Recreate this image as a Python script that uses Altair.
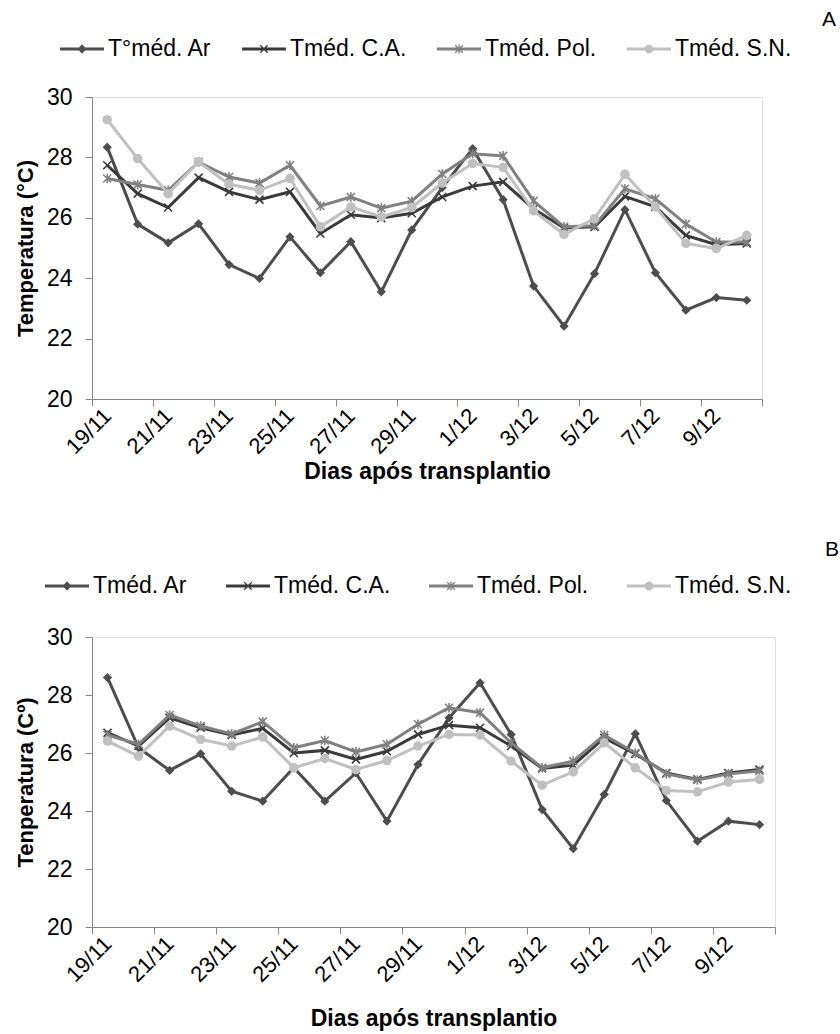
import json
import math
import altair as alt
import pandas as pd

# ---------------- data ----------------
days = ["19/11", "20/11", "21/11", "22/11", "23/11", "24/11", "25/11", "26/11",
        "27/11", "28/11", "29/11", "30/11", "1/12", "2/12", "3/12", "4/12",
        "5/12", "6/12", "7/12", "8/12", "9/12", "10/12"]
tick_labels = ["19/11", "21/11", "23/11", "25/11", "27/11", "29/11",
               "1/12", "3/12", "5/12", "7/12", "9/12"]

series_A = ["T°méd. Ar", "Tméd. C.A.", "Tméd. Pol.", "Tméd. S.N."]
series_B = ["Tméd. Ar", "Tméd. C.A.", "Tméd. Pol.", "Tméd. S.N."]

A_ar = [28.34, 25.79, 25.17, 25.80, 24.45, 23.99, 25.37, 24.18, 25.21, 23.55, 25.60,
        27.00, 28.29, 26.60, 23.74, 22.41, 24.15, 26.27, 24.18, 22.94, 23.36, 23.27]
A_ca = [27.74, 26.80, 26.34, 27.33, 26.86, 26.60, 26.86, 25.48, 26.10, 25.99, 26.15,
        26.69, 27.05, 27.19, 26.30, 25.66, 25.70, 26.71, 26.36, 25.42, 25.11, 25.15]
A_pol = [27.30, 27.10, 26.91, 27.85, 27.35, 27.15, 27.74, 26.39, 26.69, 26.32, 26.55,
         27.45, 28.12, 28.05, 26.56, 25.70, 25.74, 26.96, 26.63, 25.79, 25.20, 25.20]
A_sn = [29.25, 27.96, 26.80, 27.85, 27.11, 26.91, 27.30, 25.70, 26.36, 26.03, 26.34,
        27.15, 27.80, 27.67, 26.23, 25.45, 25.97, 27.44, 26.36, 25.15, 24.98, 25.42]

B_ar = [28.60, 26.18, 25.40, 25.97, 24.68, 24.34, 25.49, 24.34, 25.31, 23.65, 25.60,
        27.21, 28.42, 26.64, 24.05, 22.70, 24.57, 26.66, 24.36, 22.96, 23.65, 23.53]
B_ca = [26.70, 26.24, 27.21, 26.87, 26.62, 26.85, 26.00, 26.09, 25.78, 26.06, 26.64,
        26.96, 26.87, 26.24, 25.47, 25.58, 26.52, 25.97, 25.31, 25.09, 25.31, 25.43]
B_pol = [26.62, 26.30, 27.31, 26.93, 26.66, 27.08, 26.18, 26.43, 26.04, 26.30, 26.99,
         27.56, 27.39, 26.35, 25.49, 25.72, 26.62, 26.00, 25.28, 25.07, 25.28, 25.38]
B_sn = [26.41, 25.89, 26.93, 26.47, 26.24, 26.55, 25.49, 25.81, 25.43, 25.74, 26.24,
        26.64, 26.62, 25.72, 24.89, 25.35, 26.35, 25.49, 24.71, 24.66, 25.00, 25.09]

# ---------------- styling ----------------
FONT = "Liberation Sans"
COLORS = ["#4d4d4d", "#3a3a3a", "#808080", "#c0c0c0"]
AXIS_GRAY = "#868686"

X_PATH = "M-1,-1L1,1M-1,1L1,-1"
STAR_PATH = "M-1,-1L1,1M-1,1L1,-1M0,-1.2L0,1.2"


def poly(points):
    area = 0.0
    n = len(points)
    for k in range(n):
        x1, y1 = points[k]
        x2, y2 = points[(k + 1) % n]
        area += x1 * y2 - x2 * y1
    if area < 0:
        points = points[::-1]
    return "M" + "L".join(f"{x:.4f},{y:.4f}" for x, y in points) + "Z"


def line_part(h):
    return poly([(-1, -h), (1, -h), (1, h), (-1, h)])


def diag(a, t, sign):
    d = t / 2 / math.sqrt(2)
    if sign > 0:
        return poly([(-a + d, -a - d), (a + d, a - d), (a - d, a + d), (-a - d, -a + d)])
    return poly([(-a + d, a + d), (a + d, -a + d), (a - d, -a - d), (-a - d, a - d)])


def legend_paths():
    h = 0.065
    base = line_part(h)
    diamond = poly([(0, -0.22), (0.2, 0), (0, 0.22), (-0.2, 0)])
    a, t = 0.17, 0.06
    xm = diag(a, t, 1) + diag(a, t, -1)
    star = xm + poly([(-t / 2, -0.2), (t / 2, -0.2), (t / 2, 0.2), (-t / 2, 0.2)])
    circ = poly([(0.2 * math.cos(2 * math.pi * k / 20), 0.2 * math.sin(2 * math.pi * k / 20))
                 for k in range(20)])
    return [base + diamond, base + xm, base + star, base + circ]


def panel(names, values, ytitle, letter, width, height, leg_x, leg_y, col_pad,
          title_dx, title_offset, xtitle_pad):
    rows = []
    for name, vals in zip(names, values):
        for i, (d, v) in enumerate(zip(days, vals)):
            rows.append({"dia": d, "i": i, "serie": name, "v": v})
    df = pd.DataFrame(rows)

    label_arr = json.dumps(tick_labels + [""])
    band = width / len(days)
    xaxis = alt.Axis(
        values=[-0.5 + 2 * k for k in range(12)],
        labelExpr=f"{label_arr}[round((datum.value + 0.5) / 2)]",
        labelAngle=-45, labelAlign="right", labelBaseline="middle",
        labelOffset=band / 2, labelFlush=False, labelOverlap=False,
        labelFontSize=22, labelPadding=6, labelColor="black",
        tickSize=7, tickColor=AXIS_GRAY, domainColor=AXIS_GRAY, grid=False,
        title="Dias após transplantio", titleFontSize=23, titleFontWeight="bold",
        titleColor="black", titlePadding=xtitle_pad,
    )
    yaxis = alt.Axis(
        values=[20, 22, 24, 26, 28, 30], labelFontSize=23, labelPadding=13,
        labelColor="black", tickSize=7, tickColor=AXIS_GRAY, domainColor=AXIS_GRAY,
        grid=False, title=ytitle, titleFontSize=22, titleFontWeight="bold",
        titleColor="black", titlePadding=9,
    )
    base = alt.Chart(df).encode(
        x=alt.X("i:Q", scale=alt.Scale(domain=[-0.5, 21.5], nice=False, zero=False), axis=xaxis),
        y=alt.Y("v:Q", scale=alt.Scale(domain=[20, 30], nice=False, zero=False), axis=yaxis),
    )

    layers = []
    marks = [
        dict(shape="diamond", filled=True, size=85),
        dict(shape=X_PATH, filled=False, size=64, strokeWidth=1.6),
        dict(shape=STAR_PATH, filled=False, size=64, strokeWidth=1.6),
        dict(shape="circle", filled=True, size=90),
    ]
    for name, col, mk in zip(names, COLORS, marks):
        sub = base.transform_filter(alt.datum.serie == name)
        layers.append(sub.mark_line(color=col, strokeWidth=3))
        layers.append(sub.mark_point(color=col, opacity=1, **mk))

    leg = alt.Legend(
        orient="none", legendX=leg_x, legendY=leg_y, direction="horizontal",
        title=None, symbolSize=44 * 44, symbolStrokeWidth=0, labelFontSize=23,
        labelFont=FONT, labelColor="black", labelOffset=4, columnPadding=col_pad,
        symbolOpacity=1,
    )
    legend_layer = base.transform_filter("false").mark_point(filled=True, opacity=1).encode(
        color=alt.Color("serie:N", scale=alt.Scale(domain=names, range=COLORS), legend=leg),
        shape=alt.Shape("serie:N", scale=alt.Scale(domain=names, range=legend_paths()), legend=leg),
    )
    layers.append(legend_layer)

    return alt.layer(*layers).properties(
        width=width, height=height,
        title=alt.TitleParams(letter, anchor="end", frame="group", dx=title_dx,
                              offset=title_offset, fontSize=21, fontWeight="normal",
                              font=FONT, color="black"),
    )


pA = panel(series_A, [A_ar, A_ca, A_pol, A_sn], "Temperatura (°C)", "A",
           670, 302, -32, -70, 30, 74, -3, 3)
pB = panel(series_B, [B_ar, B_ca, B_pol, B_sn], "Tenperatura (Cº)", "B",
           683, 290, -47, -73, 38, 64, 4, 22)

chart = alt.vconcat(pA, pB, spacing=53).resolve_scale(
    color="independent", shape="independent"
).resolve_legend(color="independent", shape="independent").properties(
    padding={"left": 13, "top": 8, "right": 0, "bottom": 0}
).configure_view(stroke=None).configure(font=FONT)

chart.save("out.html", embed_options={"renderer": "svg", "actions": False})
